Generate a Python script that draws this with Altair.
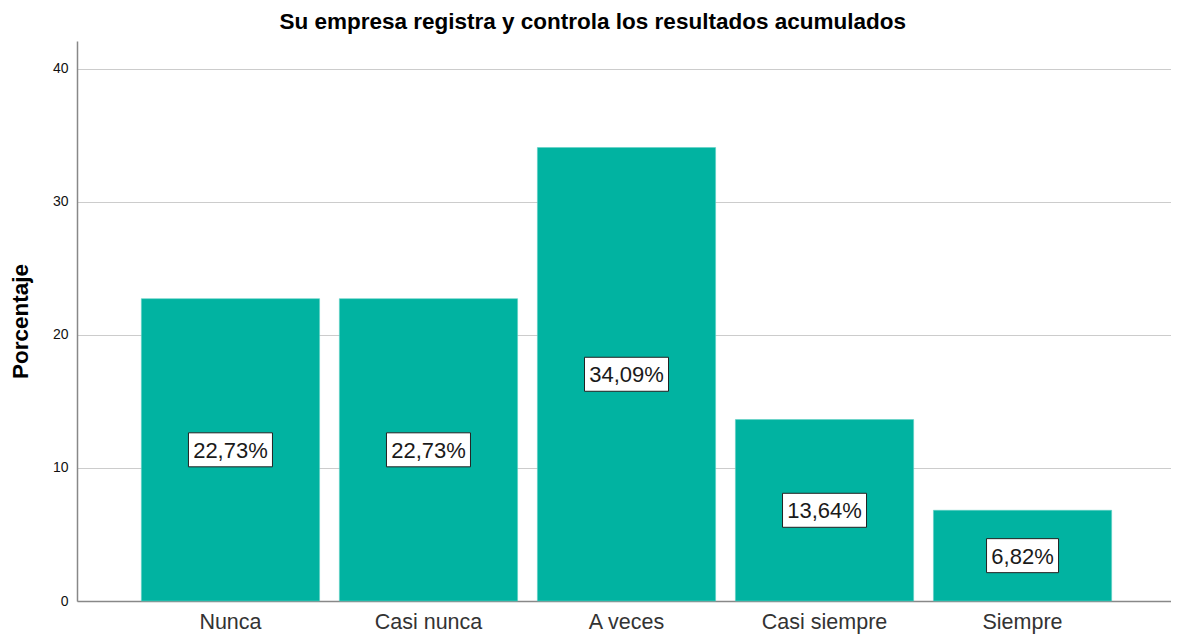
import altair as alt
import pandas as pd

categories = ["Nunca", "Casi nunca", "A veces", "Casi siempre", "Siempre"]
values = [22.73, 22.73, 34.09, 13.64, 6.82]
labels = ["22,73%", "22,73%", "34,09%", "13,64%", "6,82%"]

df = pd.DataFrame({"cat": categories, "val": values, "lab": labels})

FONT = "Liberation Sans"
x = alt.X("cat:N", sort=categories, title=None,
          scale=alt.Scale(paddingInner=0.1, paddingOuter=0.325, range=[0, 1099]),
          axis=alt.Axis(labelAngle=0, labelFontSize=21.5, labelColor="#333333",
                        labelFont=FONT, ticks=False, labelPadding=10,
                        domainColor="#888888", domainWidth=1.5, grid=False))
y_scale = alt.Scale(domain=[0, 42.1], nice=False)

bars = alt.Chart(df).mark_bar(color="#01b3a1", stroke="#5fd0c4", strokeWidth=0.6).encode(
    x=x,
    y=alt.Y("val:Q", scale=y_scale, title="Porcentaje",
            axis=alt.Axis(values=[0, 10, 20, 30, 40], labelFontSize=14, labelColor="#111111",
                          labelFont=FONT, ticks=False, labelPadding=9,
                          titleFontSize=22.5, titleFont=FONT, titleFontWeight="bold",
                          titleColor="#000000", titlePadding=20,
                          domainColor="#888888", domainWidth=1.5,
                          gridColor="#cccccc", gridWidth=1.2)),
)

base = alt.Chart(df).transform_calculate(
    mid="datum.val / 2",
    w="length(datum.lab) * 12 + 12",
    sz="datum.w * datum.w",
    shp="'M-1,' + (-34 / datum.w) + 'L1,' + (-34 / datum.w) + 'L1,' + (34 / datum.w) + 'L-1,' + (34 / datum.w) + 'Z'",
)

boxes = base.mark_point(filled=True, fill="white", stroke="#222222", strokeWidth=1, opacity=1).encode(
    x=alt.X("cat:N", sort=categories),
    y=alt.Y("mid:Q", scale=y_scale),
    size=alt.Size("sz:Q", scale=None, legend=None),
    shape=alt.Shape("shp:N", scale=None, legend=None),
)

texts = base.mark_text(fontSize=22, font=FONT, color="#1a1a1a", baseline="middle", dy=1).encode(
    x=alt.X("cat:N", sort=categories),
    y=alt.Y("mid:Q", scale=y_scale),
    text="lab:N",
)

chart = alt.layer(bars, boxes, texts).properties(
    width=1094, height=560,
    title=alt.TitleParams("Su empresa registra y controla los resultados acumulados",
                          fontSize=22.5, font=FONT, fontWeight="bold", color="#000000",
                          anchor="middle", frame="bounds", offset=8),
    autosize=alt.AutoSizeParams(type="none"),
    padding={"left": 69, "top": 33, "right": 0, "bottom": 38},
).configure_view(stroke=None)

chart.save("out.html", embed_options={"renderer": "svg", "actions": False})
